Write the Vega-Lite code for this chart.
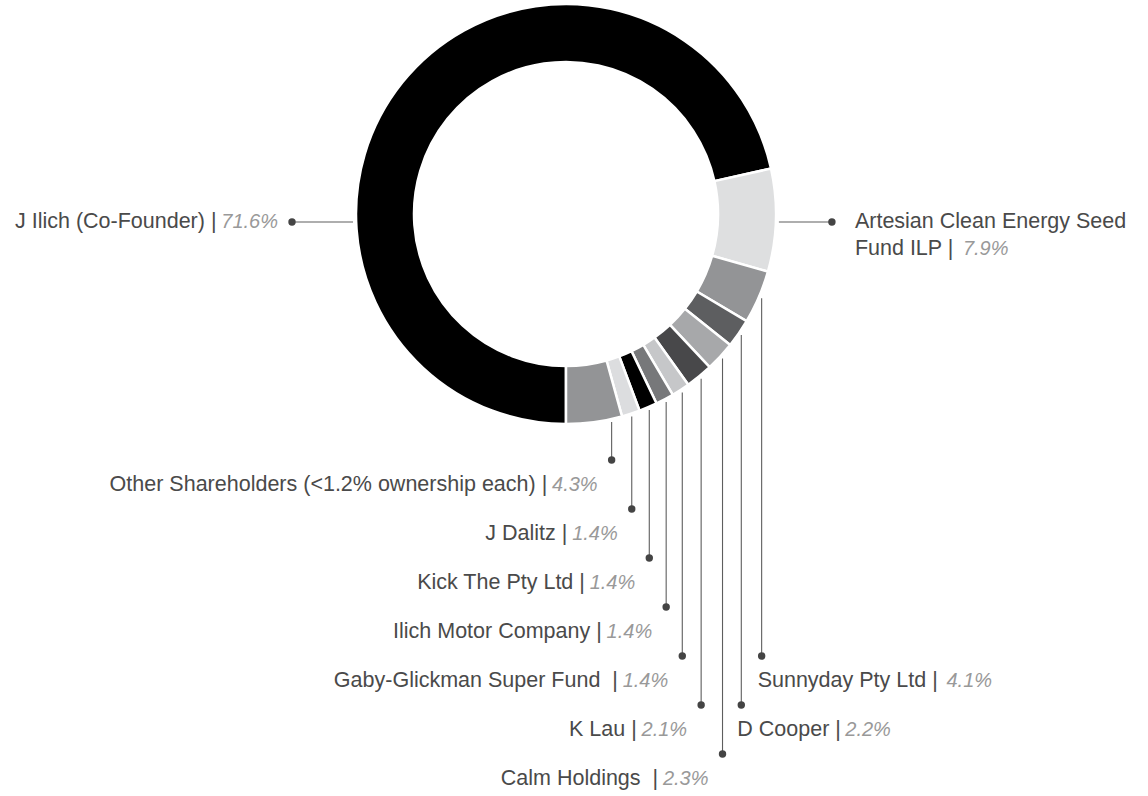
{
  "$schema": "https://vega.github.io/schema/vega-lite/v6.json",
  "width": 1132,
  "height": 428,
  "autosize": {"type": "none"},
  "padding": {"left": 0, "top": 0, "right": 16, "bottom": 368},
  "background": "white",
  "config": {"view": {"stroke": null}},
  "data": {
    "values": [
      {"holder": "J Ilich (Co-Founder)", "share": 71.6, "order": 1},
      {"holder": "Artesian Clean Energy Seed Fund ILP", "share": 7.9, "order": 2},
      {"holder": "Sunnyday Pty Ltd", "share": 4.1, "order": 3},
      {"holder": "D Cooper", "share": 2.2, "order": 4},
      {"holder": "Calm Holdings ", "share": 2.3, "order": 5},
      {"holder": "K Lau", "share": 2.1, "order": 6},
      {"holder": "Gaby-Glickman Super Fund ", "share": 1.4, "order": 7},
      {"holder": "Ilich Motor Company", "share": 1.4, "order": 8},
      {"holder": "Kick The Pty Ltd", "share": 1.4, "order": 9},
      {"holder": "J Dalitz", "share": 1.4, "order": 10},
      {"holder": "Other Shareholders (<1.2% ownership each)", "share": 4.3, "order": 11}
    ]
  },
  "transform": [
    {"joinaggregate": [{"op": "sum", "field": "share", "as": "total"}]},
    {"window": [{"op": "sum", "field": "share", "as": "cum"}], "sort": [{"field": "order"}], "frame": [null, 0]},
    {"calculate": "datum.order == 11 ? 0.8 : 0.5", "as": "frac"},
    {"calculate": "PI + 2*PI*(datum.cum - datum.frac*datum.share)/datum.total", "as": "mid"},
    {"calculate": "datum.order == 1 ? -213 : 213*sin(datum.mid)", "as": "ax"},
    {"calculate": "datum.order <= 2 ? 8 : -213*cos(datum.mid)", "as": "ay"},
    {"calculate": "datum.order >= 5 ? 11 - datum.order : datum.order + 1", "as": "level"},
    {"calculate": "datum.order <= 2 ? datum.ax + (datum.ax < 0 ? -61 : 53) : datum.ax", "as": "px"},
    {"calculate": "datum.order <= 2 ? datum.ay : 246 + 49*datum.level", "as": "py"},
    {"calculate": "datum.order <= 2 ? datum.py : datum.py + 25", "as": "ty"},
    {"calculate": "format(datum.share, '.1f') + '%'", "as": "pct"},
    {"calculate": "replace(replace(datum.holder + ' |', '  |', '\u00a0 |'), 'Seed ', 'Seed\\n')", "as": "label"}
  ],
  "layer": [
    {
      "mark": {"type": "arc", "radius": 210, "radius2": 152, "stroke": "white", "strokeWidth": 2.5},
      "encoding": {
        "theta": {"field": "share", "type": "quantitative", "stack": true, "scale": {"range": [3.14159265, 9.42477796]}},
        "order": {"field": "order", "type": "quantitative", "sort": "ascending"},
        "color": {
          "field": "holder",
          "type": "nominal",
          "legend": null,
          "scale": {
            "domain": ["J Ilich (Co-Founder)", "Artesian Clean Energy Seed Fund ILP", "Sunnyday Pty Ltd", "D Cooper", "Calm Holdings ", "K Lau", "Gaby-Glickman Super Fund ", "Ilich Motor Company", "Kick The Pty Ltd", "J Dalitz", "Other Shareholders (<1.2% ownership each)"],
            "range": ["#000000", "#dedfe0", "#939496", "#5d5e60", "#a7a8aa", "#48484a", "#c6c7c9", "#77787a", "#000000", "#dcdddf", "#939496"]
          }
        }
      }
    },
    {
      "mark": {"type": "rule", "color": "#5e5e5e", "strokeWidth": 1.1},
      "encoding": {
        "x": {"field": "ax", "type": "quantitative", "axis": null, "scale": {"domain": [-566, 566], "nice": false, "zero": false}},
        "y": {"field": "ay", "type": "quantitative", "axis": null, "scale": {"domain": [-214, 214], "reverse": true, "nice": false, "zero": false}},
        "x2": {"field": "px"},
        "y2": {"field": "py"}
      }
    },
    {
      "mark": {"type": "point", "filled": true, "color": "#444444", "size": 55, "opacity": 1},
      "encoding": {
        "x": {"field": "px", "type": "quantitative", "axis": null, "scale": {"domain": [-566, 566], "nice": false, "zero": false}},
        "y": {"field": "py", "type": "quantitative", "axis": null, "scale": {"domain": [-214, 214], "reverse": true, "nice": false, "zero": false}}
      }
    },
    {
      "transform": [
        {"filter": "datum.order == 1 || datum.order >= 5"},
        {"calculate": "datum.px - 14 - (11.1*length(datum.pct) + 1) - 5", "as": "nx"}
      ],
      "mark": {"type": "text", "align": "right", "baseline": "middle", "font": "Liberation Sans", "fontSize": 21.5, "color": "#4a4a4a"},
      "encoding": {
        "x": {"field": "nx", "type": "quantitative", "axis": null, "scale": {"domain": [-566, 566], "nice": false, "zero": false}},
        "y": {"field": "ty", "type": "quantitative", "axis": null, "scale": {"domain": [-214, 214], "reverse": true, "nice": false, "zero": false}},
        "text": {"field": "label"}
      }
    },
    {
      "transform": [
        {"filter": "datum.order == 1 || datum.order >= 5"},
        {"calculate": "datum.px - 14", "as": "qx"}
      ],
      "mark": {"type": "text", "align": "right", "baseline": "middle", "font": "Liberation Sans", "fontSize": 20, "fontStyle": "italic", "color": "#999999"},
      "encoding": {
        "x": {"field": "qx", "type": "quantitative", "axis": null, "scale": {"domain": [-566, 566], "nice": false, "zero": false}},
        "y": {"field": "ty", "type": "quantitative", "axis": null, "scale": {"domain": [-214, 214], "reverse": true, "nice": false, "zero": false}},
        "text": {"field": "pct"}
      }
    },
    {
      "transform": [
        {"filter": "datum.order >= 2 && datum.order <= 4"},
        {"calculate": "datum.order == 2 ? datum.px + 23 : datum.px - 4", "as": "nx"}
      ],
      "mark": {"type": "text", "align": "left", "baseline": "middle", "font": "Liberation Sans", "fontSize": 21.5, "color": "#4a4a4a", "lineBreak": "\n", "lineHeight": 27},
      "encoding": {
        "x": {"field": "nx", "type": "quantitative", "axis": null, "scale": {"domain": [-566, 566], "nice": false, "zero": false}},
        "y": {"field": "ty", "type": "quantitative", "axis": null, "scale": {"domain": [-214, 214], "reverse": true, "nice": false, "zero": false}},
        "text": {"field": "label"}
      }
    },
    {
      "transform": [
        {"filter": "datum.order >= 2 && datum.order <= 4"},
        {"calculate": "split(datum.label, '\\n')", "as": "lines"},
        {"calculate": "(datum.order == 2 ? datum.px + 23 : datum.px - 4) + 10.1*length(peek(datum.lines)) + 7", "as": "qx"},
        {"calculate": "datum.ty + (length(datum.lines) - 1)*27", "as": "qy"}
      ],
      "mark": {"type": "text", "align": "left", "baseline": "middle", "font": "Liberation Sans", "fontSize": 20, "fontStyle": "italic", "color": "#999999"},
      "encoding": {
        "x": {"field": "qx", "type": "quantitative", "axis": null, "scale": {"domain": [-566, 566], "nice": false, "zero": false}},
        "y": {"field": "qy", "type": "quantitative", "axis": null, "scale": {"domain": [-214, 214], "reverse": true, "nice": false, "zero": false}},
        "text": {"field": "pct"}
      }
    }
  ]
}
